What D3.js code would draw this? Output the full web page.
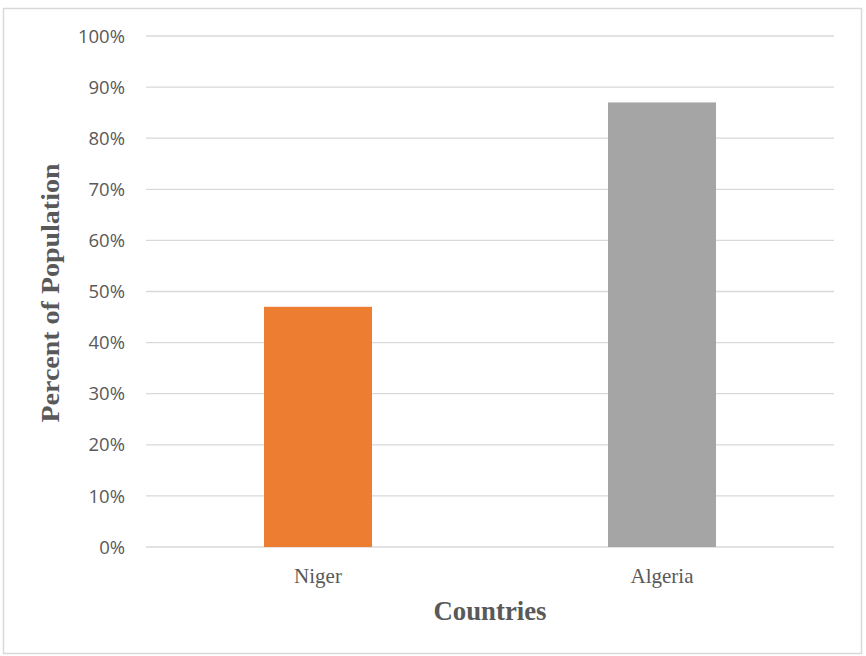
<!DOCTYPE html>
<html lang="en">
<head>
    <meta charset="UTF-8">
    <title>Percent of Population by Country</title>
    <script src="https://d3js.org/d3.v7.min.js"></script>
    <style>
        body { margin: 0; background: #fff; }
        .grid line { stroke: #d9d9d9; stroke-width: 1.3px; }
        .tick-label { font-family: "Open Sans", "Liberation Sans", sans-serif; font-size: 18.5px; fill: #595959; }
        .cat-label { font-family: "Liberation Serif", serif; font-size: 21px; fill: #595959; }
        .axis-title { font-family: "Liberation Serif", serif; font-weight: bold; fill: #595959; }
    </style>
</head>
<body>
    <svg width="866" height="656"></svg>
    <script>
const countries = ["Niger", "Algeria"];
const percents = [47, 87];
const barColors = ["#ED7D31", "#A5A5A5"];
const yTicks = [0, 10, 20, 30, 40, 50, 60, 70, 80, 90, 100];

const svg = d3.select("svg");
const margin = { left: 146, right: 32, top: 36, bottom: 109 };
const width = 866, height = 656;

// outer frame
svg.append("rect")
   .attr("x", 3.5).attr("y", 8.5)
   .attr("width", 858).attr("height", 645)
   .attr("fill", "#fff")
   .attr("stroke", "#d9d9d9")
   .attr("stroke-width", 1.5);

const x = d3.scaleBand()
            .domain(countries)
            .range([margin.left, width - margin.right])
            .paddingInner(0.686)
            .paddingOuter(0.343);

const y = d3.scaleLinear()
            .domain([0, 100])
            .range([height - margin.bottom, margin.top]);

svg.append("g").attr("class", "grid")
   .selectAll("line")
   .data(yTicks)
   .enter().append("line")
   .attr("x1", margin.left).attr("x2", width - margin.right)
   .attr("y1", d => y(d)).attr("y2", d => y(d));

svg.selectAll(".tick-label")
   .data(yTicks)
   .enter().append("text")
   .attr("class", "tick-label")
   .attr("x", 125)
   .attr("y", d => y(d))
   .attr("dy", "0.36em")
   .attr("text-anchor", "end")
   .text(d => d + "%");

svg.selectAll(".bar")
   .data(countries)
   .enter().append("rect")
   .attr("class", "bar")
   .attr("x", d => x(d))
   .attr("width", x.bandwidth())
   .attr("y", (d, i) => y(percents[i]))
   .attr("height", (d, i) => y(0) - y(percents[i]))
   .attr("fill", (d, i) => barColors[i]);

svg.selectAll(".cat-label")
   .data(countries)
   .enter().append("text")
   .attr("class", "cat-label")
   .attr("x", d => x(d) + x.bandwidth() / 2)
   .attr("y", 583)
   .attr("text-anchor", "middle")
   .text(d => d);

svg.append("text")
   .attr("class", "axis-title")
   .attr("x", 490).attr("y", 620)
   .attr("text-anchor", "middle")
   .attr("textLength", 113)
   .attr("lengthAdjust", "spacingAndGlyphs")
   .style("font-size", "28px")
   .text("Countries");

svg.append("text")
   .attr("class", "axis-title")
   .attr("transform", "translate(59,293) rotate(-90)")
   .attr("text-anchor", "middle")
   .attr("textLength", 259)
   .attr("lengthAdjust", "spacingAndGlyphs")
   .style("font-size", "25px")
   .text("Percent of Population");
    </script>
</body>
</html>
